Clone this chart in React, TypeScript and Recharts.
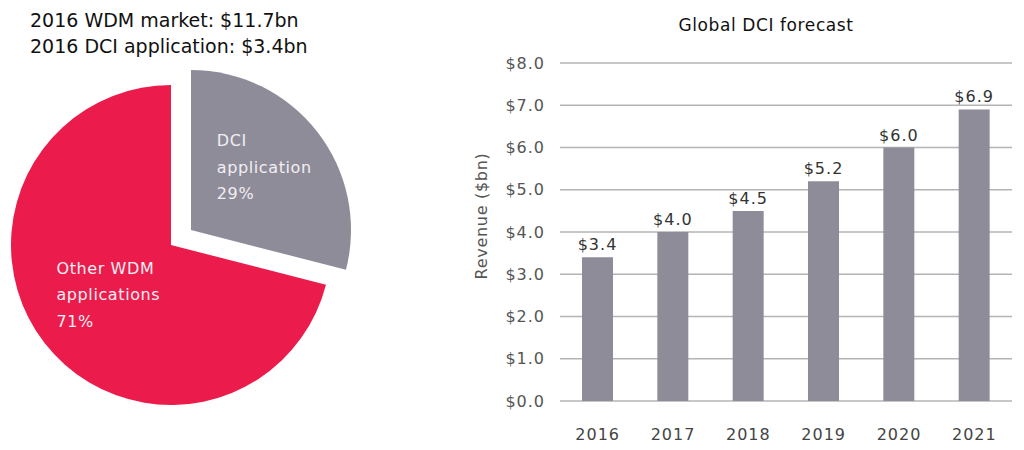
import { PieChart, Pie, Cell, BarChart, Bar, XAxis, YAxis, CartesianGrid, LabelList, Label } from 'recharts';

const shareNames = ['DCI|application', 'Other WDM|applications'];
const shareValues = [29, 71];
const shareColors = ['#8f8c9a', '#eb1b4b'];

const years = ['2016', '2017', '2018', '2019', '2020', '2021'];
const revenue = [3.4, 4.0, 4.5, 5.2, 6.0, 6.9];
const yTicks = [0, 1, 2, 3, 4, 5, 6, 7, 8];

const headerLines = ['2016 WDM market: $11.7bn', '2016 DCI application: $3.4bn'];

const pieData = shareNames.map((name, i) => ({ name, value: shareValues[i] }));
const barData = years.map((year, i) => ({ year, revenue: revenue[i] }));

const RAD = Math.PI / 180;
const chartFont = '"DejaVu Sans", sans-serif';
const axisText = { fontSize: 16, fontFamily: chartFont, letterSpacing: 1 };

// label inside the slice, left aligned, three lines
const sliceLabel = (props: any) => {
  const { cx, cy, midAngle, outerRadius, index, name, value } = props;
  const k = index === 0 ? 0.6 : 0.55;
  const mx = cx + outerRadius * k * Math.cos(-midAngle * RAD);
  const my = cy + outerRadius * k * Math.sin(-midAngle * RAD);
  const lines = [...String(name).split('|'), `${value}%`];
  const x0 = index === 0 ? mx - 50 : mx - 45;
  return (
    <text x={x0} y={my - 25} fill="#f1eef3" fontSize={16} letterSpacing={0.6} fontFamily={chartFont} textAnchor="start">
      {lines.map((l, j) => (
        <tspan key={j} x={x0} dy={j === 0 ? 0 : 26.5}>{l}</tspan>
      ))}
    </text>
  );
};

function SharePie() {
  return (
    <PieChart width={360} height={450}>
      {/* the rest of the market */}
      <Pie
        data={pieData}
        dataKey="value"
        cx={166}
        cy={240}
        outerRadius={160}
        startAngle={90}
        endAngle={-270}
        stroke="none"
        isAnimationActive={false}
        label={(p: any) => (p.index === 1 ? sliceLabel(p) : null)}
        labelLine={false}
      >
        {pieData.map((d, i) => (
          <Cell key={d.name} fill={i === 1 ? shareColors[1] : 'none'} />
        ))}
      </Pie>
      {/* pulled-out DCI slice */}
      <Pie
        data={pieData}
        dataKey="value"
        cx={186}
        cy={225}
        outerRadius={160}
        startAngle={90}
        endAngle={-270}
        stroke="none"
        isAnimationActive={false}
        label={(p: any) => (p.index === 0 ? sliceLabel(p) : null)}
        labelLine={false}
      >
        {pieData.map((d, i) => (
          <Cell key={d.name} fill={i === 0 ? shareColors[0] : 'none'} />
        ))}
      </Pie>
    </PieChart>
  );
}

function ForecastBars() {
  return (
    <BarChart width={584} height={450} data={barData} margin={{ top: 63, right: 12, bottom: 9, left: 40 }}>
      <text x={326} y={31} textAnchor="middle" fontSize={17} letterSpacing={0.6} fontFamily={chartFont} fill="#111">
        Global DCI forecast
      </text>
      <CartesianGrid vertical={false} stroke="#b4b4b4" strokeWidth={1.5} />
      <XAxis
        dataKey="year"
        axisLine={false}
        tickLine={false}
        height={40}
        tickMargin={22}
        tick={{ fill: '#444', ...axisText }}
      />
      <YAxis
        domain={[0, 8]}
        ticks={yTicks}
        width={80}
        axisLine={false}
        tickLine={false}
        tickSize={0}
        tickMargin={15}
        tickFormatter={(v: number) => `$${v.toFixed(1)}`}
        tick={{ fill: '#555', ...axisText }}
      >
        <Label
          content={(p: any) => {
            const vb = p.viewBox;
            const x = vb.x + 1;
            const y = vb.y + vb.height / 2 - 16;
            return (
              <text x={x} y={y} transform={`rotate(-90 ${x} ${y})`} textAnchor="middle" dominantBaseline="central" fontSize={16} letterSpacing={0.7} fontFamily={chartFont} fill="#555">
                Revenue ($bn)
              </text>
            );
          }}
        />
      </YAxis>
      <Bar dataKey="revenue" fill="#8f8c9a" barSize={31} isAnimationActive={false}>
        <LabelList
          dataKey="revenue"
          position="top"
          offset={7}
          formatter={(v: number) => `$${v.toFixed(1)}`}
          style={{ fill: '#333', ...axisText }}
        />
      </Bar>
    </BarChart>
  );
}

export default function App() {
  return (
    <div style={{ position: 'absolute', left: 0, top: 0, width: 1024, height: 450, background: '#fff', overflow: 'hidden' }}>
      <div style={{ position: 'absolute', left: 0, top: 0 }}>
        <SharePie />
      </div>
      <div style={{ position: 'absolute', left: 30, top: 7, fontFamily: chartFont, fontSize: 19, lineHeight: '26px', color: '#111' }}>
        {headerLines.map((l) => (
          <div key={l}>{l}</div>
        ))}
      </div>
      <div style={{ position: 'absolute', left: 440, top: 0 }}>
        <ForecastBars />
      </div>
    </div>
  );
}
